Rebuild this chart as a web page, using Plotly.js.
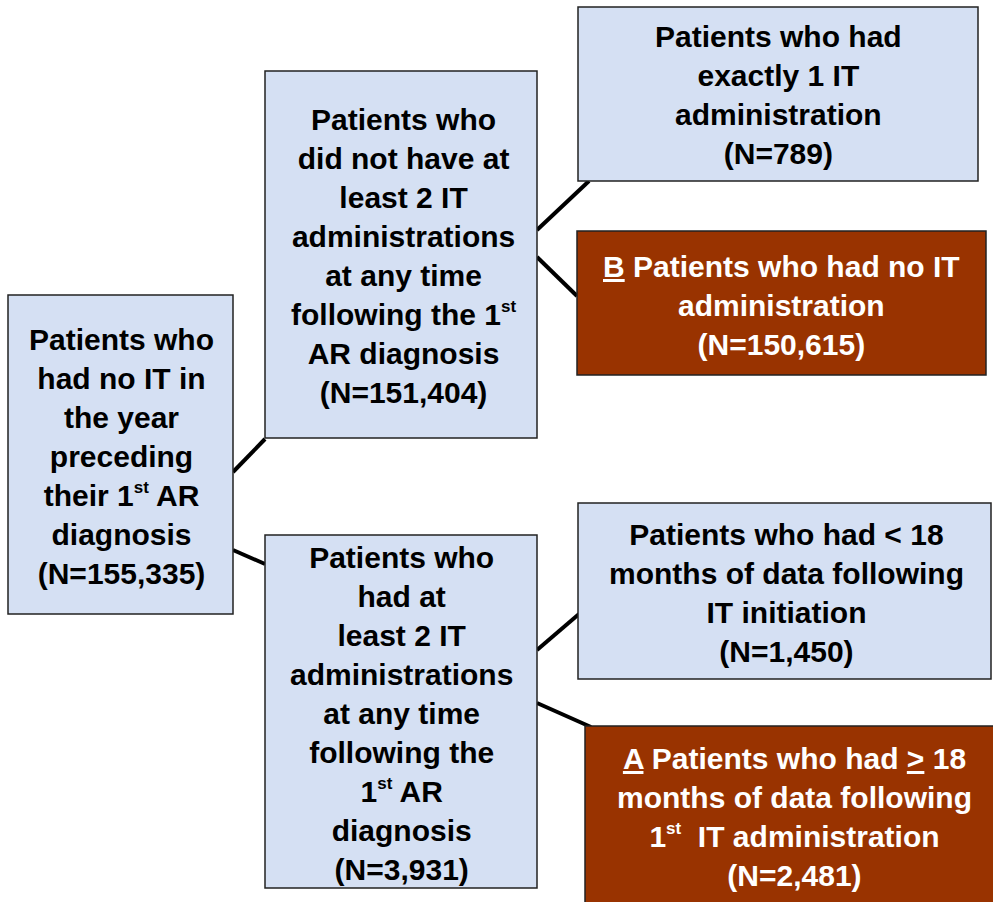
<!DOCTYPE html>
<html>
<head>
<meta charset="utf-8">
<script src="https://cdn.plot.ly/plotly-3.0.1.min.js"></script>
<style>
  html, body { margin: 0; padding: 0; background: #fff; }
</style>
</head>
<body>
<div id="chart" style="width:993px;height:902px"></div>
<script>
// Cohort flow: labels and patient counts
const ST = "<sup><span style=\"font-size:17px\">st</span></sup>"
const nodeIds = ["root", "notTwo", "atLeastTwo", "exactlyOne", "noIT", "under18", "over18"]
const nodeLabels = [
  ["Patients who", "had no IT in", "the year", "preceding", "their 1" + ST + " AR", "diagnosis"],
  ["Patients who", "did not have at", "least 2 IT", "administrations", "at any time", "following the 1" + ST, "AR diagnosis"],
  ["Patients who", "had at", "least 2 IT", "administrations", "at any time", "following the", "1" + ST + " AR", "diagnosis"],
  ["Patients who had", "exactly 1 IT", "administration"],
  ["<u>B</u> Patients who had no IT", "administration"],
  ["Patients who had &lt; 18", "months of data following", "IT initiation"],
  ["<u>A</u> Patients who had <u>&gt;</u> 18", "months of data following", "1" + ST + "  IT administration"],
]
const nodeCounts = [155335, 151404, 3931, 789, 150615, 1450, 2481]
// final study cohorts (A and B) are highlighted
const nodeSelected = [false, false, false, false, true, false, true]
const edges = [
  ["root", "notTwo"],
  ["root", "atLeastTwo"],
  ["notTwo", "exactlyOne"],
  ["notTwo", "noIT"],
  ["atLeastTwo", "under18"],
  ["atLeastTwo", "over18"],
]

// Layout (pixel space, y down)
const boxes = {
  root: [8, 295, 233, 614],
  notTwo: [265, 71, 537, 438],
  atLeastTwo: [265, 535, 537, 888],
  exactlyOne: [578, 7, 978, 181],
  noIT: [577, 231, 986, 375],
  under18: [578, 503, 991, 679],
  over18: [585, 726, 1005, 915],
}
const textCenters = {
  root: [121, 456],
  notTwo: [403, 256],
  atLeastTwo: [401, 713],
  exactlyOne: [778, 95],
  noIT: [781, 305],
  under18: [786, 593],
  over18: [794, 817],
}
const edgeAnchors = [
  [233, 472, 265, 439],
  [233, 550, 265, 564],
  [537, 230, 589, 181],
  [537, 257, 577, 296],
  [537, 650, 579, 614],
  [537, 703, 591, 727],
]

const blueFill = "#D5E0F3"
const brownFill = "#993300"

const shapes = []
const annotations = []

edges.forEach((e, i) => {
  const [x0, y0, x1, y1] = edgeAnchors[i]
  shapes.push({
    type: "line", xref: "x", yref: "y",
    x0: x0, y0: y0, x1: x1, y1: y1,
    line: { color: "#000", width: 4 },
  })
})

nodeIds.forEach((id, i) => {
  const [x0, y0, x1, y1] = boxes[id]
  shapes.push({
    type: "rect", xref: "x", yref: "y",
    x0: x0, y0: y0, x1: x1, y1: y1,
    fillcolor: nodeSelected[i] ? brownFill : blueFill,
    line: { color: "#222", width: 1.5 },
  })
  const text = nodeLabels[i].concat(["(N=" + nodeCounts[i].toLocaleString("en-US") + ")"]).join("<br>")
  annotations.push({
    xref: "x", yref: "y",
    x: textCenters[id][0], y: textCenters[id][1],
    text: text,
    showarrow: false,
    align: "center",
    xanchor: "center",
    yanchor: "middle",
    font: {
      family: "Liberation Sans, Arial, sans-serif",
      size: 30,
      weight: 700,
      color: nodeSelected[i] ? "#ffffff" : "#000000",
    },
  })
})

const layout = {
  width: 993,
  height: 902,
  margin: { l: 0, r: 0, t: 0, b: 0 },
  paper_bgcolor: "#ffffff",
  plot_bgcolor: "#ffffff",
  showlegend: false,
  xaxis: { range: [0, 993], visible: false, fixedrange: true },
  yaxis: { range: [902, 0], visible: false, fixedrange: true },
  shapes: shapes,
  annotations: annotations,
}

Plotly.newPlot("chart", [], layout, { displayModeBar: false, staticPlot: true })
</script>
</body>
</html>
